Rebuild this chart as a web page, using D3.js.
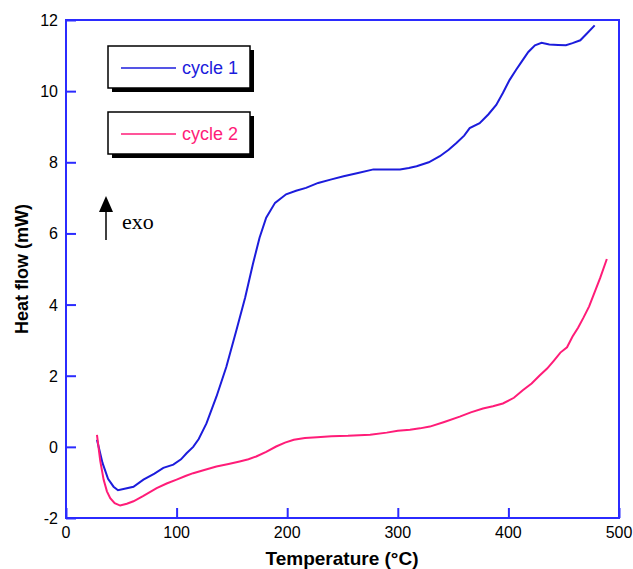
<!DOCTYPE html>
<html>
<head>
<meta charset="utf-8">
<script src="https://cdn.jsdelivr.net/npm/d3@7"></script>
<style>
  body { margin: 0; background: #fff; }
  svg { display: block; }
</style>
</head>
<body>
<svg width="633" height="569"></svg>
<script>
// readings (temperature in °C, heat flow in mW)
let cycle1T = [28, 33, 38, 43, 47, 54, 61, 70, 80, 88, 97, 104, 109, 115, 120, 127, 136, 145, 154, 162, 169, 175, 181, 189, 199, 208, 217, 228, 240, 251, 264, 278, 290, 302, 310, 317, 328, 338, 346, 353, 360, 365, 374, 382, 389, 395, 401, 407, 412, 418, 424, 430, 437, 445, 452, 458, 465, 471, 478]
let cycle1H = [0.2, -0.45, -0.9, -1.12, -1.22, -1.17, -1.12, -0.92, -0.75, -0.59, -0.5, -0.35, -0.18, 0.0, 0.22, 0.66, 1.41, 2.25, 3.27, 4.2, 5.14, 5.88, 6.44, 6.86, 7.1, 7.2, 7.28, 7.42, 7.52, 7.61, 7.7, 7.8, 7.8, 7.8, 7.84, 7.89, 8.0, 8.17, 8.35, 8.54, 8.75, 8.96, 9.1, 9.35, 9.61, 9.95, 10.31, 10.6, 10.83, 11.1, 11.29, 11.36, 11.31, 11.3, 11.29, 11.35, 11.43, 11.62, 11.85]

let cycle2T = [28, 31, 34, 37, 40, 44, 49, 55, 61, 70, 82, 91, 100, 108, 115, 125, 136, 147, 157, 165, 172, 181, 190, 198, 206, 216, 227, 240, 255, 275, 290, 300, 311, 320, 329, 342, 356, 366, 377, 386, 395, 405, 413, 421, 428, 435, 441, 447, 453, 458, 463, 468, 473, 478, 483, 489]
let cycle2H = [0.34, -0.4, -0.92, -1.25, -1.44, -1.58, -1.65, -1.6, -1.53, -1.38, -1.16, -1.03, -0.92, -0.82, -0.74, -0.65, -0.55, -0.48, -0.41, -0.35, -0.27, -0.14, 0.01, 0.12, 0.2, 0.25, 0.27, 0.3, 0.31, 0.34, 0.4, 0.45, 0.48, 0.52, 0.57, 0.7, 0.85, 0.97, 1.08, 1.14, 1.22, 1.38, 1.59, 1.78, 2.0, 2.2, 2.42, 2.65, 2.8, 3.1, 3.35, 3.64, 3.95, 4.35, 4.75, 5.28]

let xTicks = [0, 100, 200, 300, 400, 500]
let yTicks = [-2, 0, 2, 4, 6, 8, 10, 12]
let seriesNames = ['cycle 1', 'cycle 2']

let width = 633
let height = 569
let margin = { top: 20, right: 14, bottom: 51, left: 66 }

let axisColor = '#2b2bff'
let colors = ['#1c1cdc', '#ff1c78']
let sans = 'Liberation Sans, Arial, sans-serif'

let svg = d3.select('svg')

let xScale = d3.scaleLinear()
  .domain([0, 500])
  .range([margin.left, width - margin.right])

let yScale = d3.scaleLinear()
  .domain([-2, 12])
  .range([height - margin.bottom, margin.top])

// frame
svg.append('rect')
  .attr('x', xScale(0))
  .attr('y', yScale(12))
  .attr('width', xScale(500) - xScale(0))
  .attr('height', yScale(-2) - yScale(12))
  .attr('fill', 'none')
  .attr('stroke', axisColor)
  .attr('stroke-width', 2)

// inward ticks
let xAxis = svg.append('g')
  .attr('transform', `translate(0, ${yScale(-2)})`)
  .call(d3.axisTop(xScale).tickValues(xTicks).tickSize(10).tickFormat(''))
let yAxis = svg.append('g')
  .attr('transform', `translate(${xScale(0)}, 0)`)
  .call(d3.axisRight(yScale).tickValues(yTicks).tickSize(10).tickFormat(''))

for (let ax of [xAxis, yAxis]) {
  ax.select('.domain').remove()
  ax.selectAll('line').attr('stroke', axisColor).attr('stroke-width', 2)
}

// tick labels
svg.append('g')
  .selectAll('text')
  .data(xTicks)
  .enter()
  .append('text')
  .attr('x', d => xScale(d))
  .attr('y', yScale(-2) + 20)
  .attr('text-anchor', 'middle')
  .attr('font-family', sans)
  .attr('font-size', 16)
  .text(d => d)

svg.append('g')
  .selectAll('text')
  .data(yTicks)
  .enter()
  .append('text')
  .attr('x', xScale(0) - 8)
  .attr('y', d => yScale(d) + 6)
  .attr('text-anchor', 'end')
  .attr('font-family', sans)
  .attr('font-size', 16)
  .text(d => d)

// axis titles
svg.append('text')
  .attr('x', 342)
  .attr('y', height - 4)
  .attr('text-anchor', 'middle')
  .attr('font-family', sans)
  .attr('font-weight', 'bold')
  .attr('font-size', 19)
  .text('Temperature (°C)')

svg.append('text')
  .attr('transform', `translate(28, ${(yScale(-2) + yScale(12)) / 2}) rotate(-90)`)
  .attr('text-anchor', 'middle')
  .attr('font-family', sans)
  .attr('font-weight', 'bold')
  .attr('font-size', 18)
  .text('Heat flow (mW)')

// curves
let line = d3.line()
  .x(d => xScale(d[0]))
  .y(d => yScale(d[1]))

let series = [
  d3.zip(cycle1T, cycle1H),
  d3.zip(cycle2T, cycle2H)
]

svg.selectAll('path.curve')
  .data(series)
  .enter()
  .append('path')
  .attr('class', 'curve')
  .attr('d', line)
  .attr('fill', 'none')
  .attr('stroke', (d, i) => colors[i])
  .attr('stroke-width', 2)

// legend boxes with drop shadow
let legend = svg.selectAll('g.legend')
  .data(seriesNames)
  .enter()
  .append('g')
  .attr('class', 'legend')
  .attr('transform', (d, i) => `translate(108, ${46 + i * 66})`)

legend.append('rect')
  .attr('x', 4).attr('y', 4)
  .attr('width', 142).attr('height', 42)
  .attr('fill', '#000')
legend.append('rect')
  .attr('x', 0).attr('y', 0)
  .attr('width', 142).attr('height', 42)
  .attr('fill', '#fff')
  .attr('stroke', '#000')
  .attr('stroke-width', 1.5)
legend.append('line')
  .attr('x1', 13).attr('x2', 68)
  .attr('y1', 22).attr('y2', 22)
  .attr('stroke', (d, i) => colors[i])
  .attr('stroke-width', 1.5)
legend.append('text')
  .attr('x', 74).attr('y', 28)
  .attr('font-family', sans)
  .attr('font-size', 18)
  .attr('fill', (d, i) => colors[i])
  .text(d => d)

// exo arrow
svg.append('line')
  .attr('x1', 106).attr('x2', 106)
  .attr('y1', 240).attr('y2', 206)
  .attr('stroke', '#000')
  .attr('stroke-width', 1.5)
svg.append('path')
  .attr('d', 'M99,212 L106,196 L113,212 Z')
  .attr('fill', '#000')
svg.append('text')
  .attr('x', 122).attr('y', 229)
  .attr('font-family', 'Liberation Serif, Times New Roman, serif')
  .attr('font-size', 22)
  .text('exo')
</script>
</body>
</html>
